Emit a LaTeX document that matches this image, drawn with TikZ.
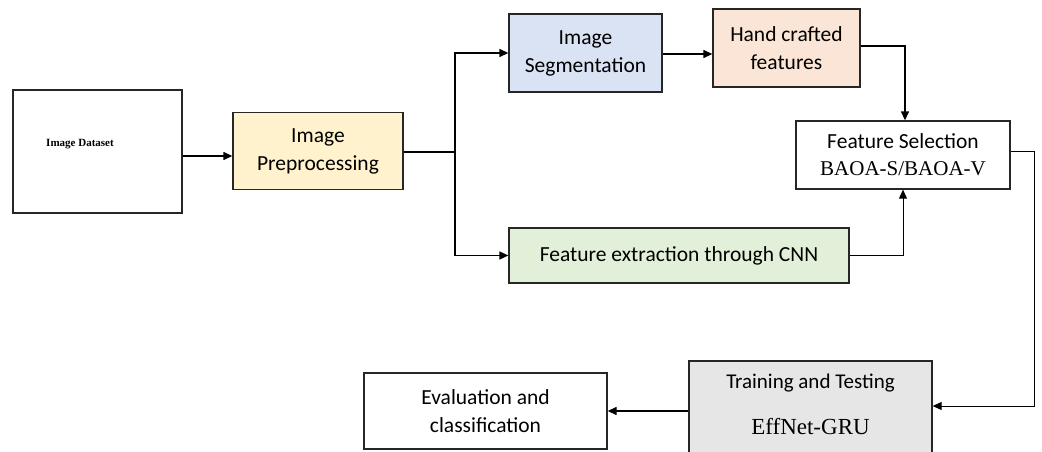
\documentclass[tikz,border=0pt]{standalone}
\usepackage{fontspec}
\setmainfont{Liberation Serif}
\newfontfamily\calfont{Carlito}
\usetikzlibrary{arrows.meta}
\definecolor{preY}{HTML}{FFF2CC}
\definecolor{segB}{HTML}{DAE3F3}
\definecolor{handO}{HTML}{FBE5D6}
\definecolor{cnnG}{HTML}{E2F0D9}
\definecolor{trnG}{HTML}{E7E6E6}
\tikzset{
  boxnode/.style={draw=black!85, line width=1.3pt, rectangle, inner sep=0pt, align=center,
    font=\calfont\fontsize{21.5}{28}\selectfont},
  arr/.style={line width=1.3pt, -{Triangle[length=9pt,width=8pt]}},
  thinarr/.style={line width=0.9pt, -{Triangle[length=9pt,width=8pt]}},
  plain/.style={line width=1.3pt},
}
\begin{document}
\begin{tikzpicture}[x=1pt,y=-1pt]
\useasboundingbox[fill=white] (0,0) rectangle (1042,452);
% boxes
\node[boxnode, minimum width=169pt, minimum height=123pt] (ds) at (97.5,151.5) {};
\node[font=\bfseries\fontsize{11}{13}\selectfont] (dslabel) at (80,144) {Image Dataset};
\node[boxnode, fill=preY, minimum width=170pt, minimum height=77pt] (pre) at (318,151) {Image\\Preprocessing};
\node[boxnode, fill=segB, minimum width=153pt, minimum height=78pt] (seg) at (585.5,53) {Image\\Segmentation};
\node[boxnode, fill=handO, minimum width=147pt, minimum height=78pt] (hand) at (786.5,48) {Hand crafted\\features};
\node[boxnode, fill=white, minimum width=214pt, minimum height=68pt, font=\fontsize{21}{27}\selectfont] (fs) at (903,155)
  {{\calfont\fontsize{21.5}{27}\selectfont Feature Selection}\\BAOA-S/BAOA-V};
\node[boxnode, fill=cnnG, minimum width=340pt, minimum height=55pt] (cnn) at (679,255.5) {Feature extraction through CNN};
\node[boxnode, fill=trnG, minimum width=243pt, minimum height=115pt] (train) at (810.5,418.5) {};
\node[font=\calfont\fontsize{21}{26}\selectfont] (trainA) at (810.5,383) {Training and Testing};
\node[font=\fontsize{23}{28}\selectfont] (trainB) at (810.5,427) {EffNet-GRU};
\node[boxnode, fill=white, minimum width=243pt, minimum height=76pt] (eval) at (485.5,411) {Evaluation and\\classification};
% connectors
\coordinate (br) at (455,152);
\coordinate (rt) at (1034,151);
\draw[arr] (ds.east |- 0,156) -- (pre.west |- 0,156);
\draw[plain] (pre.east |- br) -- (br);
\draw[arr] (br) |- ([yshift=-0pt]seg.west);
\draw[arr] (br) |- (cnn.west);
\draw[arr] (seg.east |- 0,54) -- (hand.west |- 0,54);
\draw[arr] ([yshift=2pt]hand.east) -| ([xshift=2pt]fs.north);
\draw[thinarr] (cnn.east) -| (fs.south);
\draw[thinarr] (fs.east |- rt) -- (rt) |- ([yshift=12.5pt]train.east);
\draw[arr] ([yshift=7.5pt]train.west) -- (eval.east);
\end{tikzpicture}
\end{document}
